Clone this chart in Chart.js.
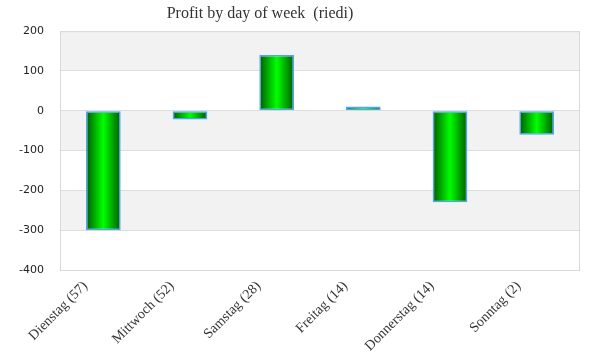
<!DOCTYPE html>
<html>
<head>
<meta charset="utf-8">
<script src="https://cdn.jsdelivr.net/npm/chart.js@4"></script>
<style>
  html, body { margin: 0; padding: 0; background: #fff; }
  #wrap { width: 600px; height: 360px; }
</style>
</head>
<body>
<div id="wrap"><canvas id="profitChart"></canvas></div>
<script>
// data
const days = ['Dienstag (57)', 'Mittwoch (52)', 'Samstag (28)', 'Freitag (14)', 'Donnerstag (14)', 'Sonntag (2)'];
const profit = [-300, -22, 140, 11, -230, -60];
const yMin = -400;
const yMax = 200;
const yStep = 100;

const BAR_PCT = 0.4;

// horizontal dark-bright-dark green fill per bar
function barGradient(context) {
  const chart = context.chart;
  const xs = chart.scales.x;
  if (!xs || !chart.chartArea || context.dataIndex === undefined) return '#00c000';
  const cx = xs.getPixelForValue(context.dataIndex);
  const half = (xs.width / days.length) * BAR_PCT / 2;
  if (!isFinite(cx) || !isFinite(half) || half <= 0) return '#00c000';
  const g = chart.ctx.createLinearGradient(cx - half, 0, cx + half, 0);
  g.addColorStop(0, '#005a00');
  g.addColorStop(0.5, '#00ff00');
  g.addColorStop(1, '#005a00');
  return g;
}

// alternating grey bands + frame of the plot area
const bandsPlugin = {
  id: 'bands',
  afterLayout(chart) {
    // the title sits a bit left of centre in the original
    if (chart.titleBlock) chart.titleBlock.right = chart.titleBlock.left + 520;
  },
  beforeDraw(chart) {
    const { ctx, chartArea, scales } = chart;
    const y = scales.y;
    ctx.save();
    let i = 0;
    for (let v = yMax; v > yMin; v -= yStep) {
      if (i % 2 === 0) {
        const top = y.getPixelForValue(v);
        const bot = y.getPixelForValue(v - yStep);
        ctx.fillStyle = '#f2f2f2';
        ctx.fillRect(chartArea.left, top, chartArea.right - chartArea.left, bot - top);
      }
      i++;
    }
    ctx.restore();
  },
  afterDraw(chart) {
    const { ctx, chartArea } = chart;
    ctx.save();
    ctx.strokeStyle = '#d9d9d9';
    ctx.lineWidth = 1;
    ctx.strokeRect(chartArea.left + 0.5, chartArea.top + 0.5,
      chartArea.right - chartArea.left - 1, chartArea.bottom - chartArea.top);
    ctx.restore();
  }
};

new Chart(document.getElementById('profitChart'), {
  type: 'bar',
  data: {
    labels: days,
    datasets: [{
      label: 'Profit',
      data: profit,
      backgroundColor: barGradient,
      borderColor: '#4da3ff',
      borderWidth: 1.5,
      borderSkipped: false,
      barPercentage: BAR_PCT,
      categoryPercentage: 1.0
    }]
  },
  options: {
    responsive: true,
    maintainAspectRatio: false,
    animation: false,
    layout: { padding: { left: 0, right: 20, top: 0, bottom: 0 } },
    plugins: {
      legend: { display: false },
      tooltip: { enabled: false },
      title: {
        display: true,
        text: 'Profit by day of week  (riedi)',
        color: '#333',
        font: { family: 'Liberation Serif', size: 16, weight: 'normal' },
        padding: { top: 4, bottom: 8 }
      }
    },
    scales: {
      x: {
        grid: { display: false },
        border: { display: false },
        ticks: {
          color: '#333',
          font: { family: 'Liberation Serif', size: 14 },
          maxRotation: 45,
          minRotation: 45,
          padding: 0,
          labelOffset: -18
        },
        afterFit(scale) { scale.height = 90; }
      },
      y: {
        min: yMin,
        max: yMax,
        grid: { color: '#dddddd', drawTicks: false },
        border: { display: false },
        ticks: {
          stepSize: yStep,
          color: '#222',
          font: { family: 'DejaVu Sans', size: 11 },
          padding: 16
        },
        afterFit(scale) { scale.width = 60; }
      }
    }
  },
  plugins: [bandsPlugin]
});
</script>
</body>
</html>
